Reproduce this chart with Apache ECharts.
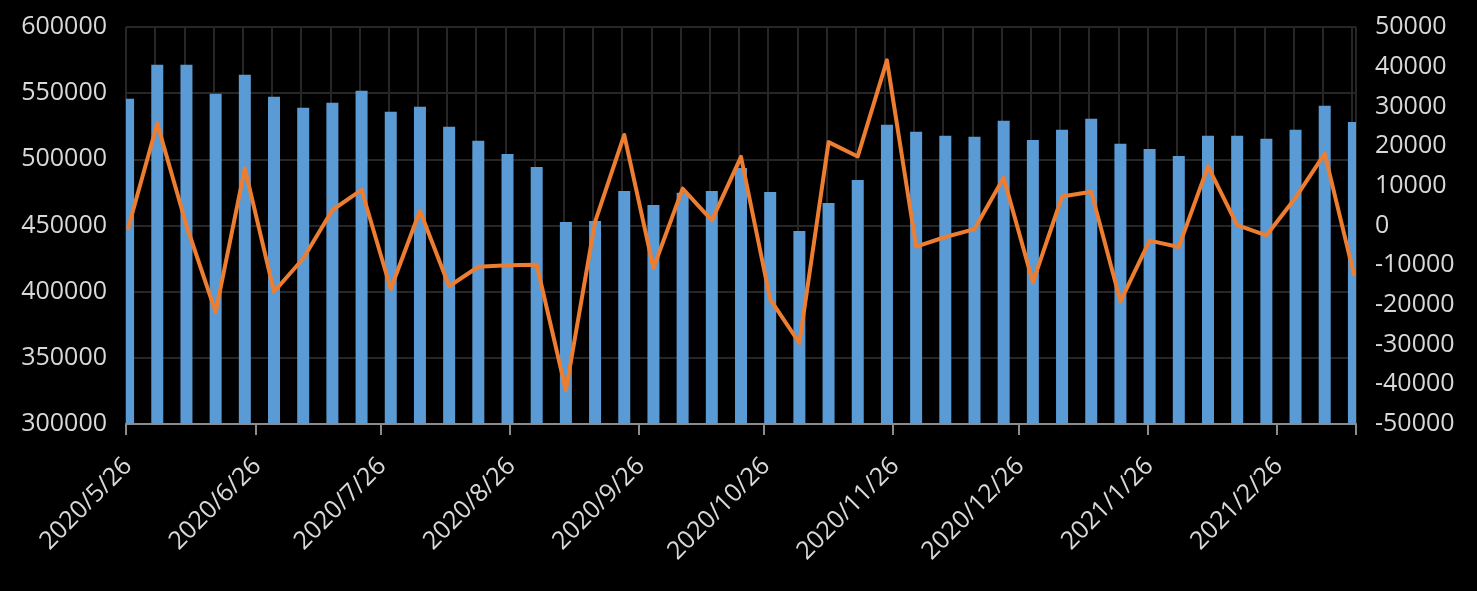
<!DOCTYPE html>
<html>
<head>
<meta charset="utf-8">
<script src="https://cdn.jsdelivr.net/npm/echarts@6/dist/echarts.min.js"></script>
<style>
html,body{margin:0;padding:0;background:#000;}
#chart{width:1477px;height:591px;}
</style>
</head>
<body>
<div id="chart"></div>
<script>
// Weekly dates
const dates = [
  '2020/5/26','2020/6/2','2020/6/9','2020/6/16','2020/6/23','2020/6/30',
  '2020/7/7','2020/7/14','2020/7/21','2020/7/28','2020/8/4','2020/8/11',
  '2020/8/18','2020/8/25','2020/9/1','2020/9/8','2020/9/15','2020/9/22',
  '2020/9/29','2020/10/6','2020/10/13','2020/10/20','2020/10/27','2020/11/3',
  '2020/11/10','2020/11/17','2020/11/24','2020/12/1','2020/12/8','2020/12/15',
  '2020/12/22','2020/12/29','2021/1/5','2021/1/12','2021/1/19','2021/1/26',
  '2021/2/2','2021/2/9','2021/2/16','2021/2/23','2021/3/2','2021/3/9',
  '2021/3/16'
];
// Bars (left axis)
const barValues = [
  545800, 571500, 571500, 549500, 563900, 547300, 538900, 542700, 551800, 535900,
  539700, 524600, 514000, 504100, 494300, 452700, 453400, 476100, 465500, 474800,
  476100, 493400, 475400, 445800, 467000, 484400, 526100, 520800, 517800, 517000,
  529100, 514700, 522300, 530600, 511700, 507900, 502600, 517800, 517800, 515500,
  522300, 540500, 528300
];
// Line (right axis)
const lineValues = [
  -700, 25700, 0, -21800, 14400, -16700, -8300, 3900, 9000, -16000,
  3700, -15300, -10400, -10000, -9900, -41500, 900, 22800, -10700, 9300,
  1300, 17300, -18600, -29600, 21000, 17400, 41600, -5300, -2900, -900,
  12000, -14300, 7300, 8500, -19100, -3800, -5400, 14900, 100, -2500,
  7000, 18100, -12300
];
// X tick labels (monthly)
const tickLabels = [
  '2020/5/26','2020/6/26','2020/7/26','2020/8/26','2020/9/26',
  '2020/10/26','2020/11/26','2020/12/26','2021/1/26','2021/2/26'
];
const leftTicks = [300000, 350000, 400000, 450000, 500000, 550000, 600000];
const rightTicks = [-50000, -40000, -30000, -20000, -10000, 0, 10000, 20000, 30000, 40000, 50000];

// Daily date axis from 2020/5/26 through 2021/3/16 (like a date axis)
const startY = 2020, startM = 4, startD = 26, nDays = 295;
const days = [];
for (let i = 0; i < nDays; i++) {
  const d = new Date(Date.UTC(startY, startM, startD + i));
  days.push(d.getUTCFullYear() + '/' + (d.getUTCMonth() + 1) + '/' + d.getUTCDate());
}
const isTick = (i, v) => tickLabels.indexOf(v) >= 0;

const FONT = 'Open Sans';
const TXT = '#d9d9d9';
const GRID = '#262626';

const chart = echarts.init(document.getElementById('chart'), null, {renderer: 'canvas'});
chart.setOption({
  backgroundColor: '#000000',
  animation: false,
  grid: {left: 126, right: 121, top: 27, bottom: 167},
  xAxis: [
    {
      type: 'category', data: days, boundaryGap: true,
      axisLine: {show: true, onZero: false, lineStyle: {color: '#8c8c8c', width: 2}},
      axisTick: {show: true, length: 11, alignWithLabel: false, interval: isTick, lineStyle: {color: '#8c8c8c', width: 2}},
      axisLabel: {
        show: true, rotate: 45, margin: 38, color: TXT, fontFamily: FONT, fontSize: 25,
        interval: isTick
      },
      splitLine: {show: true, interval: (i) => i % 7 === 0, lineStyle: {color: GRID, width: 2}}
    }
  ],
  yAxis: [
    {
      type: 'value', min: leftTicks[0], max: leftTicks[leftTicks.length - 1], interval: leftTicks[1] - leftTicks[0], position: 'left',
      axisLine: {show: false}, axisTick: {show: false},
      axisLabel: {color: TXT, fontFamily: FONT, fontSize: 25, margin: 19, formatter: v => String(v)},
      splitLine: {show: true, lineStyle: {color: GRID, width: 2}}
    },
    {
      type: 'value', min: rightTicks[0], max: rightTicks[rightTicks.length - 1], interval: rightTicks[1] - rightTicks[0], position: 'right',
      axisLine: {show: false}, axisTick: {show: false},
      axisLabel: {color: TXT, fontFamily: FONT, fontSize: 25, margin: 19, formatter: v => String(v)},
      splitLine: {show: false}
    }
  ],
  series: [
    {
      type: 'bar', yAxisIndex: 0, barWidth: 12, clip: true,
      itemStyle: {color: '#5b9bd5'},
      data: dates.map((d, i) => [d, barValues[i]])
    },
    {
      type: 'line', yAxisIndex: 1, showSymbol: false, symbol: 'none',
      lineStyle: {color: '#ed7d31', width: 4, join: 'round', cap: 'round'},
      itemStyle: {color: '#ed7d31'},
      data: dates.map((d, i) => [d, lineValues[i]])
    }
  ]
});
</script>
</body>
</html>
